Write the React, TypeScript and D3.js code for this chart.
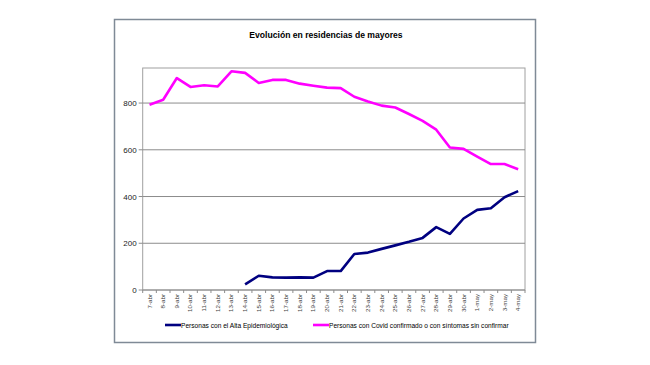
import React from "react";
import * as d3 from "d3";

const categories = [
  "7-abr","8-abr","9-abr","10-abr","11-abr","12-abr","13-abr","14-abr","15-abr","16-abr",
  "17-abr","18-abr","19-abr","20-abr","21-abr","22-abr","23-abr","24-abr","25-abr","26-abr",
  "27-abr","28-abr","29-abr","30-abr","1-may","2-may","3-may","4-may",
];
const altaValues: (number | null)[] = [
  null, null, null, null, null, null, null, 24, 61, 54,
  53, 54, 53, 81, 81, 154, 160, 176, 191, 206,
  223, 269, 240, 306, 343, 350, 397, 423,
];
const covidValues: number[] = [
  793, 814, 907, 869, 876, 871, 936, 929, 886, 899,
  899, 883, 874, 866, 864, 827, 807, 789, 781, 753,
  724, 686, 610, 604, 571, 539, 539, 517,
];
const yTicks = [0, 200, 400, 600, 800];
const seriesNames = [
  "Personas con el Alta Epidemiológica",
  "Personas con Covid confirmado o con síntomas sin confirmar",
];
const title = "Evolución en residencias de mayores";

export default function App() {
  const W = 650, H = 365;
  const left = 142.7, right = 525, top = 68, bottom = 290;
  const x = d3.scaleBand<string>().domain(categories).range([left, right]);
  const y = d3.scaleLinear().domain([0, 950]).range([bottom, top]);
  const cx = (c: string) => (x(c) ?? 0) + x.bandwidth() / 2;
  const line = d3
    .line<number | null>()
    .defined((d) => d != null)
    .x((_, i) => cx(categories[i]))
    .y((d) => y(d as number));
  const font = "Liberation Sans, Arial, sans-serif";
  const boundaries = categories.map((c) => x(c) ?? 0).concat([right]);
  return (
    <svg width={W} height={H} style={{ position: "absolute", left: 0, top: 0 }} fontFamily={font}>
      <rect x={0} y={0} width={W} height={H} fill="#fff" />
      <rect x={114.5} y={19.5} width={421} height={323} fill="#fff" stroke="#7f8a96" strokeWidth={1.5} />
      <text x={326} y={38} textAnchor="middle" fontSize={8.6} fontWeight="bold" fill="#000">{title}</text>
      <rect x={left} y={top} width={right - left} height={bottom - top} fill="#fff" stroke="#a0a0a0" strokeWidth={1} />
      {yTicks.map((t) => (
        <g key={t}>
          {t > 0 && <line x1={left} x2={right} y1={y(t)} y2={y(t)} stroke="#8c8c8c" strokeWidth={1} />}
          <line x1={left - 4} x2={left} y1={y(t)} y2={y(t)} stroke="#8c8c8c" />
          <text x={left - 6} y={y(t) + 3} textAnchor="end" fontSize={8} fill="#222">{t}</text>
        </g>
      ))}
      <line x1={left} x2={right} y1={bottom} y2={bottom} stroke="#8c8c8c" />
      {boundaries.map((b, i) => (
        <line key={i} x1={b} x2={b} y1={bottom} y2={bottom + 3} stroke="#8c8c8c" />
      ))}
      {categories.map((c) => (
        <text
          key={c}
          transform={`translate(${cx(c) + 2},${bottom + 4}) rotate(-90)`}
          textAnchor="end"
          fontSize={6.2}
          fill="#444"
        >
          {c}
        </text>
      ))}
      <path d={line(altaValues) ?? ""} fill="none" stroke="#000080" strokeWidth={2.6} strokeLinejoin="round" />
      <path d={line(covidValues) ?? ""} fill="none" stroke="#ff00ff" strokeWidth={2.6} strokeLinejoin="round" />
      <line x1={165} x2={181} y1={325} y2={325} stroke="#000080" strokeWidth={2.6} />
      <text x={181} y={327.5} fontSize={6.6} fill="#000">{seriesNames[0]}</text>
      <line x1={313} x2={329} y1={325} y2={325} stroke="#ff00ff" strokeWidth={2.6} />
      <text x={329} y={327.5} fontSize={6.6} fill="#000">{seriesNames[1]}</text>
    </svg>
  );
}
